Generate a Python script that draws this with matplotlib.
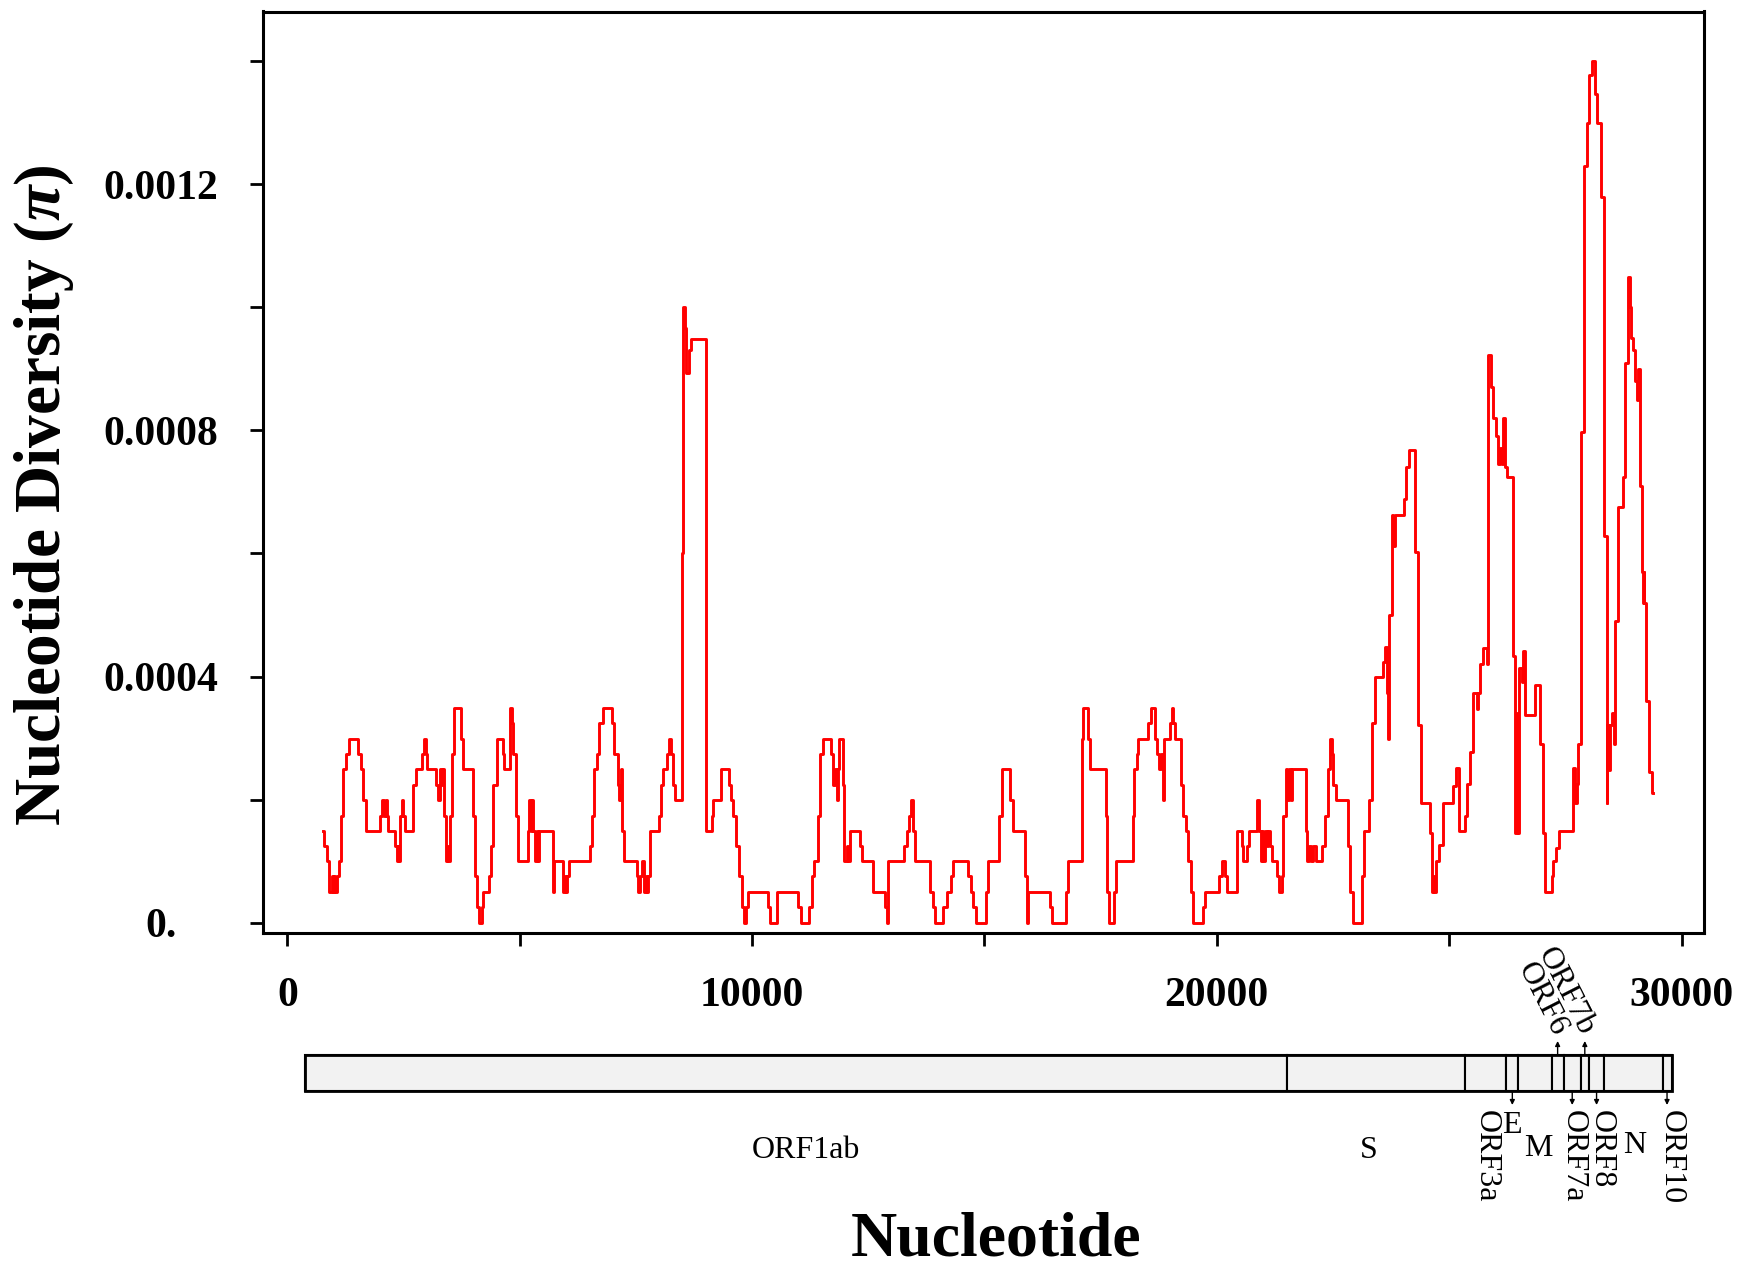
import matplotlib
matplotlib.use("Agg")
import matplotlib.pyplot as plt
from matplotlib.patches import Rectangle
from matplotlib.ticker import FixedLocator

plt.rcParams['font.family'] = ['Liberation Serif', 'DejaVu Serif']
plt.rcParams['mathtext.fontset'] = 'custom'
plt.rcParams['mathtext.it'] = 'Liberation Serif:italic:bold'
plt.rcParams['mathtext.rm'] = 'Liberation Serif:bold'
plt.rcParams['mathtext.bf'] = 'Liberation Serif:bold'

# ---------------- data: sliding-window nucleotide diversity (step starts) -----
window_start = [
    771, 785, 843, 886, 901, 950, 972, 1008, 1030, 1059, 1101, 1152, 1202, 1252, 1317,
    1524, 1575, 1632, 1682, 1991, 2041, 2084, 2120, 2135, 2170, 2313, 2349, 2371, 2396,
    2422, 2465, 2493, 2529, 2708, 2759, 2902, 2938, 2974, 2995, 3196, 3232, 3283, 3319,
    3355, 3376, 3405, 3430, 3460, 3498, 3534, 3591, 3734, 3770, 3986, 4035, 4071, 4129,
    4179, 4215, 4336, 4372, 4430, 4501, 4630, 4666, 4788, 4824, 4860, 4910, 4968, 5183,
    5205, 5234, 5263, 5291, 5327, 5363, 5399, 5421, 5721, 5735, 5922, 5936, 5972, 5994,
    6023, 6065, 6511, 6546, 6597, 6653, 6711, 6783, 6976, 7034, 7106, 7142, 7171, 7193,
    7250, 7515, 7551, 7587, 7638, 7673, 7713, 7738, 7767, 7802, 7995, 8039, 8089, 8161,
    8219, 8255, 8305, 8341, 8484, 8507, 8547, 8586, 8636, 8686, 9007, 9143, 9163, 9323,
    9502, 9538, 9596, 9652, 9724, 9775, 9832, 9861, 9918, 10349, 10385, 10528,
    10994, 11044, 11230, 11281, 11337, 11410, 11460, 11517, 11689, 11747, 11783, 11819,
    11855, 11877, 11949, 11983, 12034, 12070, 12106, 12321, 12357, 12607, 12859, 12895,
    12931, 13268, 13325, 13382, 13418, 13454, 13505, 13827, 13885, 13935, 14114, 14186,
    14280, 14330, 14652, 14710, 14760, 14818, 15033, 15069, 15320, 15370, 15549, 15621,
    15872, 15908, 15929, 16410, 16446, 16754, 16791, 17091, 17127, 17235, 17271, 17615,
    17644, 17687, 17794, 17831, 18189, 18217, 18275, 18311, 18526, 18584, 18669, 18705,
    18750, 18790, 18849, 18870, 18992, 19028, 19064, 19101, 19229, 19280, 19337, 19374,
    19439, 19496, 19696, 19746, 20054, 20104, 20177, 20227, 20427, 20535, 20572, 20644,
    20694, 20872, 20915, 20944, 20973, 21002, 21038, 21074, 21110, 21146, 21182, 21302,
    21345, 21396, 21432, 21483, 21519, 21562, 21591, 21620, 21912, 21948, 21991, 22027,
    22078, 22136, 22256, 22329, 22386, 22437, 22473, 22509, 22567, 22816, 22867, 22925,
    23131, 23174, 23276, 23333, 23405, 23570, 23620, 23656, 23685, 23714, 23763, 23799,
    23835, 24029, 24072, 24143, 24265, 24336, 24387, 24588, 24624, 24653, 24674, 24711,
    24789, 24861, 25090, 25148, 25220, 25341, 25377, 25449, 25507, 25593, 25629, 25665,
    25737, 25807, 25843, 25894, 25952, 26008, 26059, 26095, 26138, 26167, 26203, 26239,
    26382, 26418, 26454, 26490, 26512, 26562, 26584, 26633, 26848, 26955, 27013, 27064,
    27206, 27242, 27300, 27372, 27672, 27708, 27745, 27781, 27837, 27902, 27960, 28017,
    28076, 28139, 28190, 28268, 28333, 28390, 28405, 28434, 28463, 28498, 28549, 28571,
    28627, 28734, 28785, 28857, 28893, 28922, 28950, 29000, 29036, 29074, 29099, 29151,
    29172, 29187, 29201, 29237, 29309, 29365,
]
window_last_end = 29392

# nucleotide diversity, in units of 1e-4
pi_x1e4 = [
    1.49, 1.25, 1.0, 0.75, 0.5, 0.75, 0.5, 0.75, 0.5, 0.75, 1.0, 1.74, 2.49, 2.74, 2.99,
    2.74, 2.49, 1.99, 1.49, 1.74, 1.99, 1.74, 1.99, 1.74, 1.49, 1.25, 1.0, 1.25, 1.0,
    1.74, 1.99, 1.74, 1.49, 2.24, 2.49, 2.74, 2.99, 2.74, 2.49, 2.24, 1.99, 2.49, 2.24,
    2.49, 1.74, 1.0, 1.25, 1.0, 1.74, 2.74, 3.49, 2.99, 2.49, 1.74, 0.75, 0.25, 0.0,
    0.25, 0.5, 0.75, 1.25, 2.24, 2.99, 2.74, 2.49, 3.49, 3.24, 2.74, 1.74, 1.0, 1.49,
    1.99, 1.49, 1.99, 1.49, 1.0, 1.49, 1.0, 1.49, 0.5, 1.0, 0.75, 0.5, 0.75, 0.5,
    0.75, 1.0, 1.25, 1.74, 2.49, 2.74, 3.24, 3.49, 3.24, 2.74, 2.24, 1.99, 2.49, 1.49,
    1.0, 0.75, 0.5, 0.75, 1.0, 0.5, 0.75, 0.5, 0.75, 1.49, 1.74, 2.24, 2.49, 2.74,
    2.99, 2.74, 2.24, 1.99, 6.0, 10.0, 9.66, 8.94, 9.3, 9.48, 1.49, 1.74, 1.99, 2.49,
    2.24, 1.99, 1.74, 1.25, 0.75, 0.25, 0.0, 0.25, 0.5, 0.25, 0.0, 0.5,
    0.25, 0.0, 0.25, 0.75, 1.0, 1.74, 2.74, 2.99, 2.74, 2.24, 2.49, 1.99,
    2.49, 2.99, 2.24, 1.0, 1.25, 1.0, 1.49, 1.25, 1.0, 0.5, 0.25, 0.0,
    1.0, 1.25, 1.49, 1.74, 1.99, 1.49, 1.0, 0.5, 0.25, 0.0, 0.25, 0.5,
    0.75, 1.0, 0.75, 0.5, 0.25, 0.0, 0.5, 1.0, 1.74, 2.49, 1.99, 1.49,
    0.75, 0.0, 0.5, 0.25, 0.0, 0.5, 1.0, 2.99, 3.49, 2.99, 2.49, 1.74,
    0.5, 0.0, 0.5, 1.0, 1.74, 2.49, 2.74, 2.99, 3.24, 3.49, 2.99, 2.74,
    2.49, 2.74, 1.99, 2.99, 3.24, 3.49, 3.24, 2.99, 2.24, 1.74, 1.49, 1.0,
    0.5, 0.0, 0.25, 0.5, 0.75, 1.0, 0.75, 0.5, 1.49, 1.25, 1.0, 1.25,
    1.49, 1.99, 1.49, 1.0, 1.49, 1.0, 1.49, 1.25, 1.49, 1.25, 1.0, 0.75,
    0.5, 0.75, 1.74, 2.49, 1.99, 2.49, 1.99, 2.49, 1.49, 1.0, 1.25, 1.0,
    1.25, 1.0, 1.25, 1.74, 2.49, 2.99, 2.74, 2.24, 1.99, 1.25, 0.5, 0.0,
    0.75, 1.49, 1.99, 3.24, 3.99, 4.23, 4.48, 3.74, 2.99, 5.0, 6.62, 6.12,
    6.62, 6.88, 7.41, 7.68, 6.02, 3.21, 1.95, 1.46, 0.5, 0.76, 0.5, 1.0,
    1.26, 1.95, 2.22, 2.52, 1.49, 1.73, 2.25, 2.78, 3.74, 3.48, 3.74, 4.2,
    4.47, 4.2, 9.23, 8.71, 8.21, 7.91, 7.45, 7.71, 7.45, 8.21, 7.41, 7.25,
    4.34, 1.46, 3.41, 1.46, 4.14, 3.91, 4.42, 3.38, 3.87, 2.91, 1.46, 0.5,
    0.76, 1.0, 1.22, 1.49, 2.52, 1.95, 2.25, 2.91, 7.98, 12.3, 13.0, 13.77,
    14.01, 13.47, 13.0, 11.8, 6.29, 1.95, 3.21, 2.48, 3.21, 3.4, 2.91, 4.9,
    6.75, 7.25, 9.1, 10.5, 10.0, 9.5, 9.3, 8.8, 8.5, 9.0, 7.1, 5.7,
    5.2, 5.7, 5.2, 3.6, 2.45, 2.1,
]

x_ticks_major = [0, 10000, 20000, 30000]
x_ticks_minor = [5000, 15000, 25000]
x_tick_labels = ["0", "10000", "20000", "30000"]
y_ticks_major = [0.0, 0.0004, 0.0008, 0.0012]
y_ticks_minor = [0.0002, 0.0006, 0.0010, 0.0014]
y_tick_labels = ["0.", "0.0004", "0.0008", "0.0012"]

# ---------------- gene map (positions) ----------------------------------------
gene_names = ["ORF1ab", "S", "ORF3a", "E", "M", "ORF6", "ORF7a", "ORF7b", "ORF8", "N", "ORF10"]
gene_start = [387, 21503, 25345, 26232, 26486, 27207, 27461, 27835, 28003, 28341, 29592]
gene_end = [21503, 25345, 26232, 26486, 27207, 27461, 27835, 28003, 28341, 29592, 29785]
# label placement: 'h' horizontal below, 'v' vertical below, 'up' tilted above
gene_label_style = ["h", "h", "v", "h", "h", "up", "v", "up", "v", "h", "v"]
gene_label_x = [11150, 23272, 25790, 26360, 26930, 27334, 27674, 27919, 28267, 28992, 29779]
gene_arrow = [False, False, False, True, False, True, True, True, True, False, True]

# ---------------- figure -------------------------------------------------------
W, H = 1745, 1269
fig = plt.figure(figsize=(W / 100, H / 100), dpi=100)
ax = fig.add_axes([263 / W, 1 - 933 / H, (1704 - 263) / W, (933 - 11.5) / H])

xs = list(window_start) + [window_last_end]
ys = [v * 1e-4 for v in pi_x1e4]
ys = ys + [ys[-1]]
ax.step(xs, ys, where="post", color="#ff0000", lw=2.1)

XLIM = (-527, 30484)
ax.set_xlim(*XLIM)
ax.set_ylim(-1.69e-5, 0.001481)

ax.xaxis.set_major_locator(FixedLocator(x_ticks_major))
ax.xaxis.set_minor_locator(FixedLocator(x_ticks_minor))
ax.set_xticklabels(x_tick_labels)
ax.yaxis.set_major_locator(FixedLocator(y_ticks_major))
ax.yaxis.set_minor_locator(FixedLocator(y_ticks_minor))
ax.set_yticklabels(y_tick_labels)

for s in ax.spines.values():
    s.set_linewidth(2.2)
ax.tick_params(which="both", direction="out", length=9.5, width=2.0, top=False, right=False)
ax.tick_params(axis="x", which="major", pad=22, labelsize=30)
ax.tick_params(axis="y", which="major", pad=64, labelsize=30)
for lab in ax.get_xticklabels() + ax.get_yticklabels():
    lab.set_fontweight("bold")
for lab in ax.get_yticklabels():
    lab.set_horizontalalignment("center")

ax.set_ylabel("Nucleotide Diversity ($\\pi$)", fontsize=47, fontweight="bold")
ax.yaxis.label.set_verticalalignment("center")
ax.yaxis.set_label_coords((44 - 263) / (1704 - 263), (933 - 495) / (933 - 11.5))

# ---------------- gene map axes (y in pixel rows from the top) ---------------
axg = fig.add_axes([263 / W, 0, (1704 - 263) / W, 269 / H])
axg.set_xlim(*XLIM)
axg.set_ylim(1269, 1000)
axg.axis("off")
axg.set_facecolor("none")

BAR_TOP, BAR_BOT = 1055, 1091
for name, s0, e0 in zip(gene_names, gene_start, gene_end):
    axg.add_patch(Rectangle((s0, BAR_TOP), e0 - s0, BAR_BOT - BAR_TOP,
                            facecolor="#f2f2f2", edgecolor="black", lw=1.5))
axg.add_patch(Rectangle((gene_start[0], BAR_TOP), gene_end[-1] - gene_start[0],
                        BAR_BOT - BAR_TOP, facecolor="none", edgecolor="black", lw=2.0))

for name, s0, e0, sty, lx, arr in zip(gene_names, gene_start, gene_end,
                                       gene_label_style, gene_label_x, gene_arrow):
    mid = (s0 + e0) / 2
    if sty == "up":
        if arr:
            axg.annotate("", xy=(mid, 1041), xytext=(mid, BAR_TOP),
                         arrowprops=dict(arrowstyle="-|>", lw=1.0, color="black",
                                         mutation_scale=7, shrinkA=0, shrinkB=0))
        axg.text(lx + 60, 1034, name, rotation=-63, rotation_mode="anchor",
                 ha="right", va="center", fontsize=23)
    else:
        if arr:
            axg.annotate("", xy=(mid, 1105), xytext=(mid, BAR_BOT),
                         arrowprops=dict(arrowstyle="-|>", lw=1.0, color="black",
                                         mutation_scale=7, shrinkA=0, shrinkB=0))
        if sty == "v":
            axg.text(lx, 1110, name, rotation=-90, ha="center", va="top", fontsize=23)
        else:
            ty = {"ORF1ab": 1150, "S": 1150, "E": 1125, "M": 1148, "N": 1145}[name]
            axg.text(lx, ty, name, ha="center", va="center", fontsize=23)

fig.text(996 / W, 1 - 1241 / H, "Nucleotide", ha="center", va="center",
         fontsize=46, fontweight="bold")

fig.savefig("out.png", dpi=100)
